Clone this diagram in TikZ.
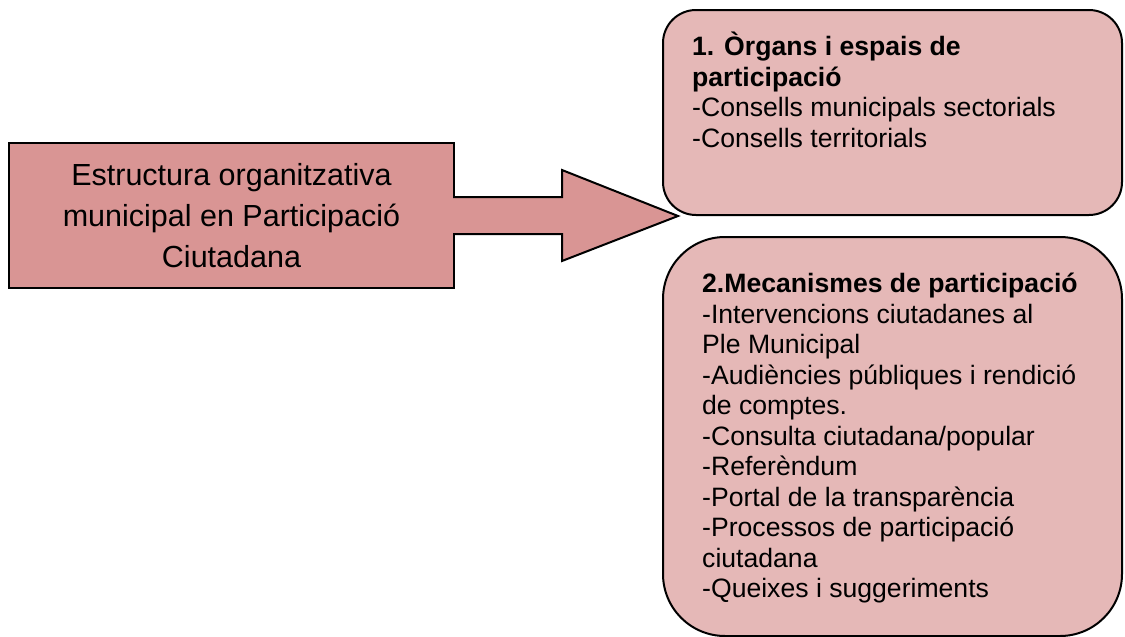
\documentclass[tikz,border=0pt]{standalone}
\usepackage{fontspec}
\setmainfont{Liberation Sans}
\usetikzlibrary{positioning}

\definecolor{darkrose}{HTML}{D99594}
\definecolor{lightrose}{HTML}{E5B8B7}

\tikzset{
  mainbox/.style={draw=black, line width=2pt, fill=darkrose, minimum width=445pt,
    minimum height=145pt, align=center, inner sep=0pt, font=\fontsize{30.5}{41}\selectfont},
  roundbox/.style={draw=black, line width=2pt, fill=lightrose, minimum width=459pt},
  listtext/.style={align=left, inner sep=0pt, anchor=north west, font=\fontsize{26.6}{30.5}\selectfont},
  blockarrow/.style={draw=black, line width=2pt, fill=darkrose, line join=miter}
}

\begin{document}
\begin{tikzpicture}[x=1pt,y=-1pt]
\useasboundingbox (0,0) rectangle (1125,637);
\node at (231.5,215.5) [mainbox] (est) {Estructura organitzativa\\municipal en Participació\\Ciutadana};
\node at (892.5,112.5) [roundbox, minimum height=205pt, rounded corners=33pt] (organs) {};
\node at (892.5,436.5) [roundbox, minimum height=399pt, rounded corners=62pt] (mecan) {};
\node (organstext) [listtext, below right=23pt and 30pt of organs.north west]
  {\textbf{1. Òrgans i espais de}\\\textbf{participació}\\-Consells municipals sectorials\\-Consells territorials};
\node (mecantext) [listtext, below right=37pt and 40pt of mecan.north west]
  {\textbf{2.Mecanismes de participació}\\-Intervencions ciutadanes al\\Ple Municipal\\-Audiències públiques i rendició\\de comptes.\\-Consulta ciutadana/popular\\-Referèndum\\-Portal de la transparència\\-Processos de participació\\ciutadana\\-Queixes i suggeriments};
% block arrow
\coordinate (tip) at (678,216);
\filldraw[blockarrow] ([shift={(-2,-18.5)}]est.east) -- (562,197) -- (562,170) -- (tip)
  -- (562,261) -- (562,234) -- ([shift={(-2,18.5)}]est.east);
\end{tikzpicture}
\end{document}
